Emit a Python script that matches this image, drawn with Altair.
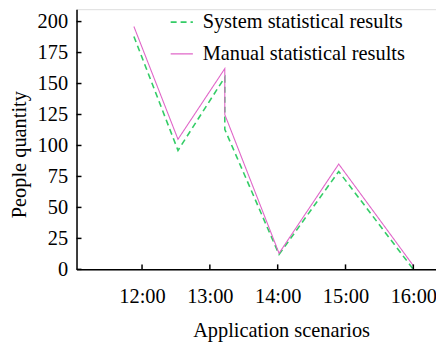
import altair as alt
import pandas as pd

# data
hours = [11.88, 12.53, 13.22, 13.22, 14.02, 14.9, 16.0]
system_vals = [188, 96, 155, 113, 12, 79, 0]
manual_vals = [196, 105, 162, 125, 13, 85, 3]
series_names = ["System statistical results", "Manual statistical results"]
x_ticks = [12, 13, 14, 15, 16]
y_ticks = [0, 25, 50, 75, 100, 125, 150, 175, 200]

rows = []
for i, h in enumerate(hours):
    rows.append({"hour": h, "value": system_vals[i], "series": series_names[0], "order": i})
    rows.append({"hour": h, "value": manual_vals[i], "series": series_names[1], "order": i})
df = pd.DataFrame(rows)

FONT = "Liberation Serif"
FS = 20.5
W, H = 362, 262
xdom = [11.034, 11.034 + W / 68.3]
ydom = [0, 210]

xs = alt.Scale(domain=xdom, nice=False, zero=False)
ys = alt.Scale(domain=ydom, nice=False)

xaxis = alt.Axis(values=x_ticks, labelExpr="datum.value + ':00'",
                 title="Application scenarios", tickSize=0, labelPadding=17,
                 grid=False, domainColor="black", domainWidth=1.5,
                 labelFont=FONT, labelFontSize=FS, labelColor="black",
                 labelOverlap=False,
                 titleFont=FONT, titleFontSize=FS, titleFontWeight="normal",
                 titleColor="black", titleX=206, titleY=68,
                 titleBaseline="alphabetic", titleAlign="center")
yaxis = alt.Axis(values=y_ticks, title="People quantity", tickSize=0,
                 labelPadding=9, grid=False, domainColor="black",
                 domainWidth=1.5, labelFont=FONT, labelFontSize=FS,
                 labelColor="black", labelOverlap=False,
                 titleFont=FONT, titleFontSize=FS,
                 titleFontWeight="normal", titleColor="black",
                 titleAngle=270, titleX=-51, titleY=146,
                 titleBaseline="alphabetic", titleAlign="center")

lines = alt.Chart(df).mark_line().encode(
    x=alt.X("hour:Q", scale=xs, axis=xaxis, title="Application scenarios"),
    y=alt.Y("value:Q", scale=ys, axis=yaxis, title="People quantity"),
    color=alt.Color("series:N", scale=alt.Scale(domain=series_names,
                                                range=["#33cc66", "#e066c8"]),
                    legend=alt.Legend(title=None, orient="none", legendX=94, legendY=1,
                                      symbolType="stroke", symbolSize=500,
                                      symbolStrokeWidth=1.8, labelFont=FONT,
                                      labelFontSize=FS, labelColor="black",
                                      labelLimit=0,
                                      rowPadding=9, labelOffset=9)),
    strokeDash=alt.StrokeDash("series:N", scale=alt.Scale(domain=series_names,
                                                          range=[[6, 4], [1, 0]]),
                              legend=None),
    strokeWidth=alt.StrokeWidth("series:N", scale=alt.Scale(domain=series_names,
                                                            range=[1.6, 1.1]),
                                legend=None),
    order="order:Q",
)

xt = pd.DataFrame({"hour": x_ticks})
yt = pd.DataFrame({"value": y_ticks})

xtick_marks = alt.Chart(xt).mark_rule(color="black", strokeWidth=1.5).encode(
    x=alt.X("hour:Q", scale=xs, axis=xaxis, title="Application scenarios"),
    y=alt.value(H), y2=alt.value(H - 5))
ytick_marks = alt.Chart(yt).mark_rule(color="black", strokeWidth=1.5).encode(
    y=alt.Y("value:Q", scale=ys, axis=yaxis, title="People quantity"),
    x=alt.value(0), x2=alt.value(5))

chart = alt.layer(lines, xtick_marks, ytick_marks).properties(
    width=W, height=H,
    autosize=alt.AutoSizeParams(type="none"),
    padding={"left": 69, "top": 0, "right": 0, "bottom": 80},
).configure_view(stroke=None).configure(background="white")

chart.save("out.html", embed_options={"renderer": "svg", "actions": False})
